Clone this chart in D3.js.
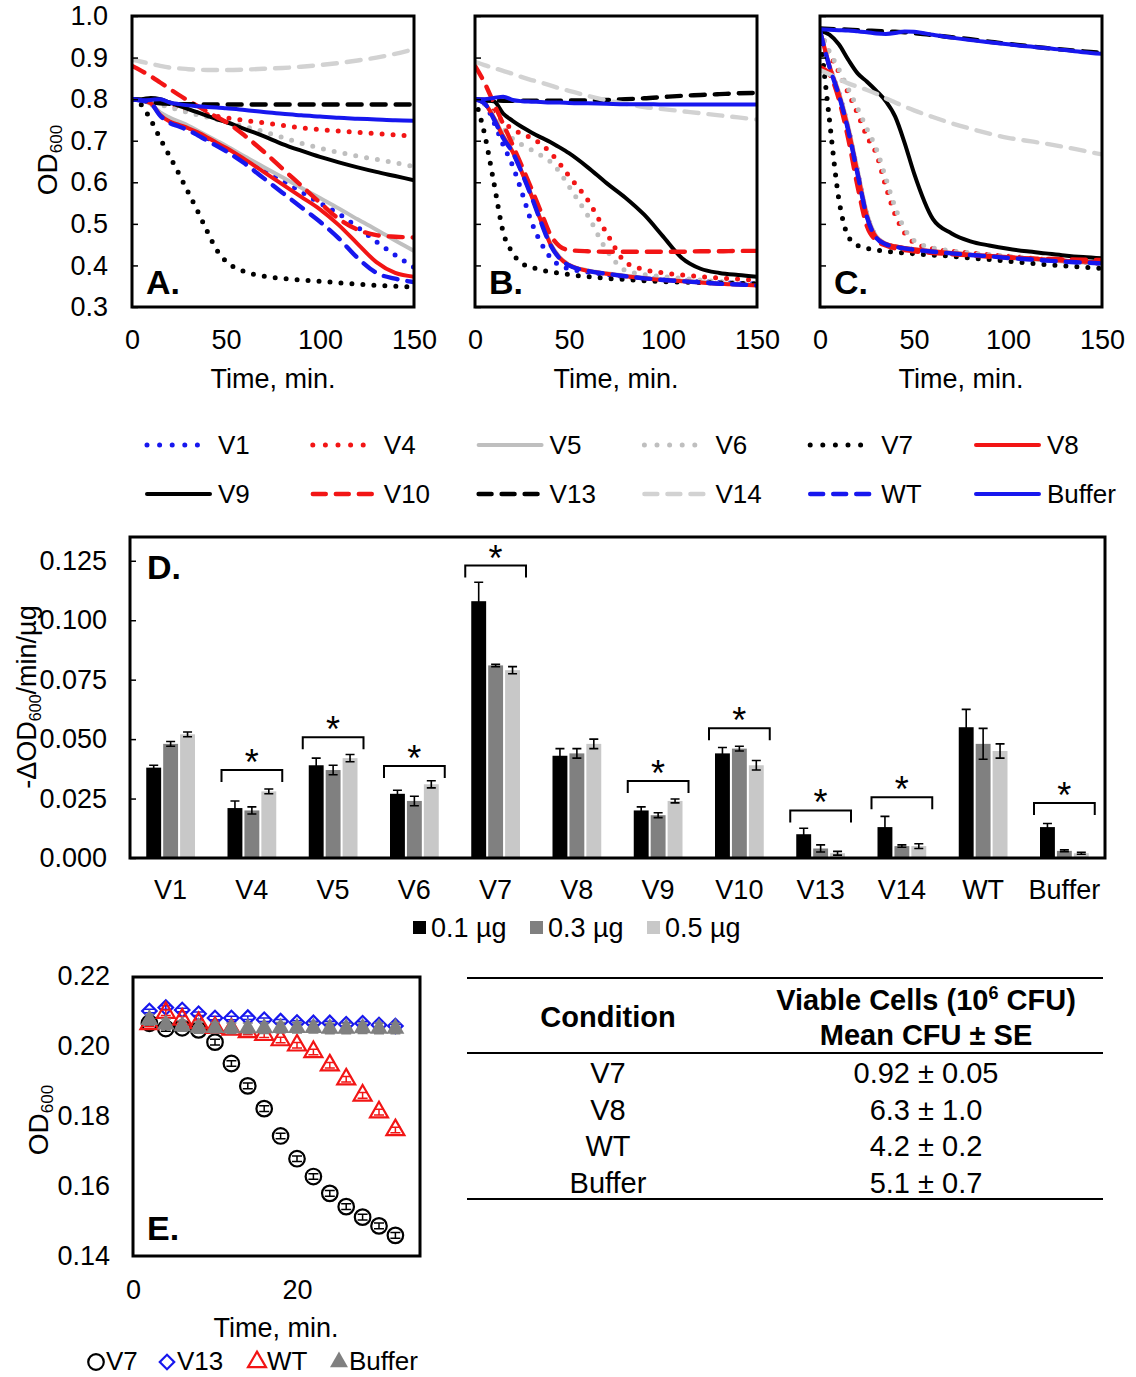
<!DOCTYPE html>
<html>
<head>
<meta charset="utf-8">
<script src="https://cdn.jsdelivr.net/npm/d3@7"></script>
<style>
  body { margin: 0; background: #fff; }
  svg { font-family: "Liberation Sans", Arial, sans-serif; }
</style>
</head>
<body>
<div id="fig"></div>
<script>
// ---- Panels A-C: OD600 over time ----
const times = [0, 5, 10, 15, 20, 25, 30, 35, 40, 45, 50, 60, 70, 80, 90, 100, 110, 120, 130, 140, 150];
const seriesNames = ['V1', 'V4', 'V5', 'V6', 'V7', 'V8', 'V9', 'V10', 'V13', 'V14', 'WT', 'Buffer'];

// one row per series, in seriesNames order
const odA = [
  [0.800, 0.797, 0.790, 0.765, 0.752, 0.742, 0.732, 0.720, 0.707, 0.694, 0.681, 0.655, 0.630, 0.604, 0.577, 0.550, 0.524, 0.492, 0.457, 0.425, 0.395],
  [0.800, 0.798, 0.795, 0.790, 0.785, 0.778, 0.772, 0.767, 0.763, 0.759, 0.755, 0.749, 0.743, 0.737, 0.731, 0.727, 0.723, 0.720, 0.717, 0.714, 0.711],
  [0.800, 0.797, 0.788, 0.768, 0.756, 0.746, 0.736, 0.724, 0.712, 0.700, 0.688, 0.662, 0.637, 0.612, 0.587, 0.562, 0.537, 0.511, 0.486, 0.460, 0.435],
  [0.800, 0.798, 0.793, 0.787, 0.780, 0.774, 0.768, 0.762, 0.757, 0.751, 0.745, 0.734, 0.722, 0.708, 0.694, 0.682, 0.672, 0.663, 0.655, 0.647, 0.638],
  [0.800, 0.786, 0.750, 0.705, 0.663, 0.620, 0.575, 0.530, 0.482, 0.438, 0.410, 0.385, 0.374, 0.369, 0.365, 0.362, 0.358, 0.355, 0.352, 0.350, 0.348],
  [0.800, 0.797, 0.790, 0.762, 0.746, 0.738, 0.730, 0.720, 0.708, 0.695, 0.683, 0.655, 0.625, 0.595, 0.565, 0.535, 0.497, 0.452, 0.408, 0.382, 0.373],
  [0.800, 0.800, 0.803, 0.800, 0.792, 0.784, 0.776, 0.768, 0.760, 0.752, 0.745, 0.728, 0.711, 0.692, 0.676, 0.661, 0.648, 0.636, 0.625, 0.615, 0.605],
  [0.880, 0.868, 0.855, 0.840, 0.825, 0.810, 0.796, 0.783, 0.770, 0.757, 0.745, 0.712, 0.674, 0.633, 0.592, 0.551, 0.512, 0.486, 0.473, 0.469, 0.467],
  [0.800, 0.797, 0.793, 0.790, 0.789, 0.788, 0.788, 0.788, 0.787, 0.787, 0.787, 0.787, 0.787, 0.787, 0.787, 0.787, 0.787, 0.787, 0.787, 0.787, 0.787],
  [0.895, 0.890, 0.885, 0.880, 0.876, 0.874, 0.872, 0.871, 0.870, 0.870, 0.870, 0.871, 0.873, 0.875, 0.878, 0.882, 0.887, 0.893, 0.900, 0.909, 0.920],
  [0.800, 0.797, 0.790, 0.760, 0.743, 0.734, 0.725, 0.713, 0.700, 0.688, 0.675, 0.645, 0.610, 0.575, 0.540, 0.505, 0.465, 0.418, 0.382, 0.368, 0.360],
  [0.800, 0.797, 0.798, 0.800, 0.792, 0.788, 0.785, 0.783, 0.781, 0.780, 0.778, 0.774, 0.769, 0.765, 0.761, 0.758, 0.755, 0.753, 0.751, 0.749, 0.748]
];
const odB = [
  [0.800, 0.790, 0.745, 0.690, 0.640, 0.575, 0.505, 0.455, 0.420, 0.400, 0.392, 0.384, 0.378, 0.373, 0.369, 0.366, 0.363, 0.361, 0.359, 0.357, 0.356],
  [0.800, 0.790, 0.770, 0.745, 0.728, 0.716, 0.707, 0.692, 0.672, 0.645, 0.615, 0.557, 0.478, 0.408, 0.390, 0.382, 0.377, 0.373, 0.370, 0.367, 0.365],
  [0.800, 0.790, 0.757, 0.712, 0.675, 0.625, 0.570, 0.510, 0.455, 0.420, 0.402, 0.388, 0.381, 0.375, 0.370, 0.366, 0.363, 0.360, 0.357, 0.355, 0.353],
  [0.800, 0.788, 0.760, 0.730, 0.705, 0.690, 0.678, 0.665, 0.650, 0.625, 0.590, 0.520, 0.437, 0.388, 0.378, 0.373, 0.369, 0.365, 0.361, 0.358, 0.356],
  [0.800, 0.718, 0.600, 0.480, 0.430, 0.405, 0.396, 0.389, 0.385, 0.381, 0.378, 0.373, 0.369, 0.366, 0.363, 0.361, 0.360, 0.359, 0.358, 0.357, 0.356],
  [0.800, 0.790, 0.755, 0.710, 0.673, 0.623, 0.568, 0.508, 0.452, 0.418, 0.401, 0.387, 0.380, 0.374, 0.369, 0.365, 0.362, 0.359, 0.356, 0.354, 0.352],
  [0.800, 0.797, 0.795, 0.765, 0.748, 0.733, 0.720, 0.708, 0.697, 0.684, 0.670, 0.636, 0.598, 0.563, 0.522, 0.470, 0.418, 0.392, 0.382, 0.377, 0.373],
  [0.880, 0.840, 0.790, 0.740, 0.690, 0.638, 0.585, 0.530, 0.475, 0.446, 0.437, 0.434, 0.433, 0.433, 0.433, 0.433, 0.433, 0.434, 0.434, 0.435, 0.435],
  [0.800, 0.798, 0.797, 0.796, 0.796, 0.796, 0.796, 0.796, 0.796, 0.796, 0.797, 0.797, 0.798, 0.800, 0.802, 0.805, 0.808, 0.810, 0.812, 0.814, 0.815],
  [0.890, 0.882, 0.875, 0.868, 0.861, 0.853, 0.846, 0.840, 0.833, 0.826, 0.820, 0.808, 0.797, 0.789, 0.781, 0.776, 0.771, 0.766, 0.761, 0.756, 0.751],
  [0.800, 0.790, 0.752, 0.706, 0.672, 0.622, 0.566, 0.505, 0.450, 0.417, 0.400, 0.387, 0.380, 0.374, 0.369, 0.365, 0.362, 0.359, 0.356, 0.354, 0.352],
  [0.800, 0.800, 0.803, 0.806, 0.798, 0.795, 0.794, 0.793, 0.792, 0.792, 0.791, 0.790, 0.789, 0.788, 0.788, 0.787, 0.787, 0.787, 0.787, 0.787, 0.787]
];
const odC = [
  [0.965, 0.880, 0.815, 0.730, 0.625, 0.520, 0.468, 0.452, 0.445, 0.441, 0.438, 0.433, 0.429, 0.425, 0.422, 0.418, 0.415, 0.412, 0.409, 0.407, 0.405],
  [0.965, 0.910, 0.865, 0.815, 0.765, 0.710, 0.668, 0.590, 0.522, 0.478, 0.455, 0.440, 0.434, 0.430, 0.426, 0.422, 0.418, 0.414, 0.411, 0.408, 0.405],
  [0.965, 0.882, 0.818, 0.735, 0.630, 0.525, 0.470, 0.453, 0.446, 0.442, 0.439, 0.434, 0.430, 0.426, 0.422, 0.418, 0.415, 0.412, 0.409, 0.407, 0.405],
  [0.965, 0.915, 0.872, 0.825, 0.778, 0.728, 0.680, 0.610, 0.540, 0.488, 0.460, 0.442, 0.435, 0.430, 0.426, 0.422, 0.418, 0.414, 0.411, 0.408, 0.405],
  [0.960, 0.751, 0.560, 0.470, 0.448, 0.441, 0.437, 0.434, 0.432, 0.430, 0.428, 0.425, 0.422, 0.418, 0.414, 0.410, 0.406, 0.402, 0.399, 0.396, 0.393],
  [0.965, 0.880, 0.813, 0.728, 0.622, 0.518, 0.467, 0.452, 0.446, 0.442, 0.439, 0.434, 0.430, 0.426, 0.423, 0.420, 0.417, 0.414, 0.411, 0.409, 0.407],
  [0.965, 0.955, 0.932, 0.895, 0.862, 0.842, 0.820, 0.795, 0.758, 0.695, 0.622, 0.512, 0.477, 0.458, 0.448, 0.440, 0.434, 0.429, 0.424, 0.420, 0.417],
  [0.877, 0.860, 0.800, 0.705, 0.590, 0.494, 0.460, 0.448, 0.441, 0.437, 0.434, 0.430, 0.427, 0.424, 0.421, 0.419, 0.417, 0.416, 0.415, 0.414, 0.413],
  [0.970, 0.969, 0.968, 0.967, 0.966, 0.965, 0.964, 0.963, 0.962, 0.961, 0.959, 0.954, 0.949, 0.944, 0.938, 0.933, 0.928, 0.923, 0.919, 0.915, 0.911],
  [0.870, 0.860, 0.848, 0.838, 0.830, 0.822, 0.813, 0.802, 0.792, 0.782, 0.773, 0.757, 0.742, 0.729, 0.717, 0.707, 0.700, 0.693, 0.685, 0.676, 0.667],
  [0.965, 0.878, 0.810, 0.725, 0.620, 0.516, 0.466, 0.451, 0.445, 0.441, 0.438, 0.433, 0.429, 0.425, 0.422, 0.418, 0.415, 0.412, 0.409, 0.407, 0.405],
  [0.968, 0.967, 0.966, 0.965, 0.963, 0.961, 0.958, 0.957, 0.959, 0.963, 0.962, 0.955, 0.948, 0.942, 0.937, 0.932, 0.927, 0.923, 0.918, 0.913, 0.909]
];
const odTicks = [0.3, 0.4, 0.5, 0.6, 0.7, 0.8, 0.9, 1.0];
const timeTicks = [0, 50, 100, 150];

// ---- Panel D: lysis rate per dose ----
const groups = ['V1', 'V4', 'V5', 'V6', 'V7', 'V8', 'V9', 'V10', 'V13', 'V14', 'WT', 'Buffer'];
const doses = ['0.1 µg', '0.3 µg', '0.5 µg'];
const rate01 = [0.038, 0.021, 0.039, 0.027, 0.108, 0.043, 0.020, 0.044, 0.010, 0.013, 0.055, 0.013];
const rate03 = [0.048, 0.020, 0.037, 0.024, 0.081, 0.044, 0.018, 0.046, 0.004, 0.005, 0.048, 0.003];
const rate05 = [0.052, 0.028, 0.042, 0.031, 0.079, 0.048, 0.024, 0.039, 0.002, 0.005, 0.045, 0.002];
const err01 = [0.001, 0.003, 0.003, 0.0015, 0.008, 0.003, 0.0015, 0.0025, 0.0025, 0.0045, 0.0075, 0.0015];
const err03 = [0.001, 0.0015, 0.002, 0.002, 0.0005, 0.002, 0.001, 0.001, 0.0015, 0.0005, 0.0065, 0.0004];
const err05 = [0.001, 0.001, 0.0015, 0.0015, 0.0015, 0.002, 0.0008, 0.002, 0.0008, 0.001, 0.003, 0.0004];
const sigGroups = ['V4', 'V5', 'V6', 'V7', 'V9', 'V10', 'V13', 'V14', 'Buffer'];
const sigLevel = [0.037, 0.0508, 0.0387, 0.1230, 0.0324, 0.0546, 0.0200, 0.0256, 0.0231];
const rateTicks = [0, 0.025, 0.05, 0.075, 0.1, 0.125];

// ---- Panel E: short time course ----
const eTimes = [2, 4, 6, 8, 10, 12, 14, 16, 18, 20, 22, 24, 26, 28, 30, 32];
const eV7 = [0.2065, 0.2050, 0.2052, 0.2046, 0.2011, 0.1950, 0.1886, 0.1821, 0.1743, 0.1678, 0.1627, 0.1579, 0.1541, 0.1511, 0.1486, 0.1459];
const eV13 = [0.2100, 0.2110, 0.2103, 0.2092, 0.2080, 0.2080, 0.2081, 0.2075, 0.2071, 0.2067, 0.2066, 0.2066, 0.2062, 0.2065, 0.2060, 0.2057];
const eWT = [0.2063, 0.2095, 0.2076, 0.2066, 0.2052, 0.2047, 0.2040, 0.2032, 0.2017, 0.2002, 0.1983, 0.1945, 0.1905, 0.1859, 0.1811, 0.1760];
const eBuffer = [0.2075, 0.2062, 0.2057, 0.2053, 0.2052, 0.2051, 0.2051, 0.2051, 0.2052, 0.2052, 0.2052, 0.2050, 0.2050, 0.2051, 0.2050, 0.2050];
const eErrV7 = 0.0008, eErrV13 = 0.0005, eErrWT = 0.0008, eErrBuffer = 0.0015;
const eTicksY = [0.14, 0.16, 0.18, 0.20, 0.22];
const eTicksX = [0, 20];

// ---- Table ----
const tableConditions = ['V7', 'V8', 'WT', 'Buffer'];
const tableMean = ['0.92', '6.3', '4.2', '5.1'];
const tableSE = ['0.05', '1.0', '0.2', '0.7'];

// styles
const BLUE = '#1717ee', RED = '#f21515', GRAY = '#bfbfbf', LGRAY = '#d2d2d2';
const lineStyle = {
  V1: { color: BLUE, dash: 'dot' },   V4: { color: RED, dash: 'dot' },
  V5: { color: GRAY, dash: 'solid' }, V6: { color: GRAY, dash: 'dot' },
  V7: { color: '#000', dash: 'dot' }, V8: { color: RED, dash: 'solid' },
  V9: { color: '#000', dash: 'solid' }, V10: { color: RED, dash: 'dash' },
  V13: { color: '#000', dash: 'dash' }, V14: { color: LGRAY, dash: 'dash' },
  WT: { color: BLUE, dash: 'dash' },  Buffer: { color: BLUE, dash: 'solid' }
};
const dashArray = { dot: '0,11', dash: '14,10', solid: null };
const legendDash = { dot: '0,12.6', dash: '13,10', solid: null };
const FS = 27;

const svg = d3.select('#fig').append('svg')
  .attr('width', 1136).attr('height', 1377);

function styleLine(sel, name) {
  const s = lineStyle[name];
  sel.attr('fill', 'none')
    .attr('stroke', s.color)
    .attr('stroke-width', s.dash === 'solid' ? 4 : (s.dash === 'dot' ? 5 : 4.4))
    .attr('stroke-linecap', 'round')
    .attr('stroke-linejoin', 'round')
    .attr('stroke-dasharray', dashArray[s.dash]);
}

function cleanAxis(g) {
  g.select('.domain').remove();
  g.selectAll('text').attr('font-size', FS).attr('fill', '#000')
    .attr('font-family', '"Liberation Sans", Arial, sans-serif');
}

function linePanel(data, x0, x1, letter, withY) {
  const x = d3.scaleLinear().domain([0, 150]).range([x0, x1]);
  const y = d3.scaleLinear().domain([0.3, 1.0]).range([307, 16]);
  const clipId = 'clip' + letter;
  svg.append('clipPath').attr('id', clipId)
    .append('rect').attr('x', x0).attr('y', 16).attr('width', x1 - x0).attr('height', 291);

  const g = svg.append('g');
  const lg = g.append('g').attr('clip-path', `url(#${clipId})`);
  const line = d3.line()
    .x((d, i) => x(times[i]))
    .y(d => y(d))
    .curve(d3.curveMonotoneX);

  seriesNames.forEach(function(name, k) {
    lg.append('path').attr('d', line(data[k])).call(styleLine, name);
  });

  // inward tick marks
  g.append('g').attr('transform', `translate(${x0},0)`)
    .call(d3.axisRight(y).tickValues(odTicks).tickSize(6).tickFormat(''))
    .call(cleanAxis)
    .selectAll('line').attr('stroke', '#000').attr('stroke-width', 1.5);

  if (withY) {
    g.append('g').attr('transform', `translate(${x0},0)`)
      .call(d3.axisLeft(y).tickValues(odTicks).tickFormat(d3.format('.1f')).tickSize(0).tickPadding(24))
      .call(cleanAxis);
  }

  g.append('g').attr('transform', 'translate(0,307)')
    .call(d3.axisBottom(x).tickValues(timeTicks).tickSize(0).tickPadding(23))
    .call(cleanAxis);

  g.append('text')
    .attr('x', (x0 + x1) / 2).attr('y', 388)
    .attr('text-anchor', 'middle').attr('font-size', FS)
    .text('Time, min.');

  g.append('rect')
    .attr('x', x0).attr('y', 16).attr('width', x1 - x0).attr('height', 291)
    .attr('fill', 'none').attr('stroke', '#000').attr('stroke-width', 3);

  g.append('text')
    .attr('x', x0 + 14).attr('y', 294)
    .attr('font-size', 34).attr('font-weight', 'bold')
    .text(letter + '.');
}

linePanel(odA, 132, 414, 'A', true);
linePanel(odB, 475, 757, 'B', false);
linePanel(odC, 820, 1102, 'C', false);

// OD600 label for A
const odLabel = svg.append('text')
  .attr('transform', 'translate(57,160) rotate(-90)')
  .attr('text-anchor', 'middle').attr('font-size', 28);
odLabel.append('tspan').text('OD');
odLabel.append('tspan').attr('font-size', 17).attr('dy', 5).text('600');

// Legend for A-C
const legCols = 6;
seriesNames.forEach(function(name, i) {
  const col = i % legCols, row = Math.floor(i / legCols);
  const lx = 147 + col * 165.8, ly = 445 + row * 49;
  svg.append('path')
    .attr('d', d3.line()([[lx, ly], [lx + 63, ly]]))
    .call(styleLine, name)
    .attr('stroke-dasharray', legendDash[lineStyle[name].dash]);
  svg.append('text')
    .attr('x', lx + 71).attr('y', ly + 9)
    .attr('font-size', 26).text(name);
});

// ---- Panel D ----
(function() {
  const x0 = 130, x1 = 1105, yTop = 537, yBot = 858;
  const x = d3.scaleBand().domain(groups).range([x0, x1]).paddingInner(0.4).paddingOuter(0.2);
  const xs = d3.scaleBand().domain(doses).range([0, x.bandwidth()]).paddingInner(0.12);
  const y = d3.scaleLinear().domain([0, 0.135]).range([yBot, yTop]);
  const barColors = ['#000000', '#808080', '#c8c8c8'];
  const rates = [rate01, rate03, rate05];
  const errs = [err01, err03, err05];
  const g = svg.append('g');

  rates.forEach(function(vals, d) {
    g.selectAll(null).data(groups).enter().append('rect')
      .attr('x', k => x(k) + xs(doses[d]))
      .attr('y', (k, i) => y(vals[i]))
      .attr('width', xs.bandwidth())
      .attr('height', (k, i) => yBot - y(vals[i]))
      .attr('fill', barColors[d]);
  });

  rates.forEach(function(vals, d) {
    groups.forEach(function(k, i) {
      const cx = x(k) + xs(doses[d]) + xs.bandwidth() / 2;
      const top = y(vals[i] + errs[d][i]), bot = y(Math.max(0, vals[i] - errs[d][i]));
      g.append('path')
        .attr('d', `M${cx},${top}V${bot}M${cx - 4.5},${top}H${cx + 4.5}M${cx - 4.5},${bot}H${cx + 4.5}`)
        .attr('stroke', '#000').attr('stroke-width', 1.6).attr('fill', 'none');
    });
  });

  // significance brackets
  sigGroups.forEach(function(k, i) {
    const bl = x(k) - 6, br = x(k) + x.bandwidth() + 6, by = y(sigLevel[i]);
    g.append('path')
      .attr('d', `M${bl},${by + 12}V${by}H${br}V${by + 12}`)
      .attr('fill', 'none').attr('stroke', '#000').attr('stroke-width', 2);
    g.append('text')
      .attr('x', x(k) + x.bandwidth() / 2).attr('y', by + 5)
      .attr('text-anchor', 'middle').attr('font-size', 36)
      .text('*');
  });

  // inward ticks
  g.append('g').attr('transform', `translate(${x0},0)`)
    .call(d3.axisRight(y).tickValues(rateTicks).tickSize(6).tickFormat(''))
    .call(cleanAxis)
    .selectAll('line').attr('stroke', '#000').attr('stroke-width', 1.5);
  g.append('g').attr('transform', `translate(${x0},0)`)
    .call(d3.axisLeft(y).tickValues(rateTicks).tickFormat(d3.format('.3f')).tickSize(0).tickPadding(23))
    .call(cleanAxis);
  g.append('g').attr('transform', `translate(0,${yBot})`)
    .call(d3.axisBottom(x).tickSize(0).tickPadding(22))
    .call(cleanAxis);

  g.append('rect')
    .attr('x', x0).attr('y', yTop).attr('width', x1 - x0).attr('height', yBot - yTop)
    .attr('fill', 'none').attr('stroke', '#000').attr('stroke-width', 3);

  g.append('text').attr('x', 147).attr('y', 579)
    .attr('font-size', 34).attr('font-weight', 'bold').text('D.');

  const yl = g.append('text')
    .attr('transform', 'translate(36,697) rotate(-90)')
    .attr('text-anchor', 'middle').attr('font-size', 27);
  yl.append('tspan').text('-ΔOD');
  yl.append('tspan').attr('font-size', 16).attr('dy', 5).text('600');
  yl.append('tspan').attr('dy', -5).text('/min/µg');

  // legend
  doses.forEach(function(dname, d) {
    const lx = 413 + d * 117;
    g.append('rect').attr('x', lx).attr('y', 921).attr('width', 13).attr('height', 13).attr('fill', barColors[d]);
    g.append('text').attr('x', lx + 18).attr('y', 937).attr('font-size', FS).text(dname);
  });
})();

// ---- Panel E ----
(function() {
  const x0 = 133, x1 = 420, yTop = 977, yBot = 1256;
  const x = d3.scaleLinear().domain([0, 35]).range([x0, x1]);
  const y = d3.scaleLinear().domain([0.14, 0.22]).range([yBot, 976]);
  const g = svg.append('g');

  const sym = {
    circle: d3.symbol().type(d3.symbolCircle).size(190),
    diamond: d3.symbol().type(d3.symbolSquare).size(105),
    triangle: d3.symbol().type(d3.symbolTriangle).size(140)
  };
  const eSeries = [
    { name: 'V7', vals: eV7, err: eErrV7, shape: 'circle', stroke: '#000', fill: 'none', errColor: '#000' },
    { name: 'V13', vals: eV13, err: eErrV13, shape: 'diamond', stroke: BLUE, fill: 'none', errColor: BLUE },
    { name: 'WT', vals: eWT, err: eErrWT, shape: 'triangle', stroke: RED, fill: 'none', errColor: RED },
    { name: 'Buffer', vals: eBuffer, err: eErrBuffer, shape: 'triangle', stroke: 'none', fill: '#808080', errColor: '#808080' }
  ];

  function marker(sel, s) {
    sel.attr('d', sym[s.shape])
      .attr('fill', s.fill).attr('stroke', s.stroke).attr('stroke-width', 2.2);
  }

  eSeries.forEach(function(s) {
    s.vals.forEach(function(v, i) {
      const cx = x(eTimes[i]);
      const rot = s.shape === 'diamond' ? ' rotate(45)' : '';
      g.append('path').attr('transform', `translate(${cx},${y(v)})${rot}`).call(marker, s);
      const t = y(v + s.err), b = y(v - s.err);
      g.append('path')
        .attr('d', `M${cx},${t}V${b}M${cx - 5},${t}H${cx + 5}M${cx - 5},${b}H${cx + 5}`)
        .attr('stroke', s.errColor).attr('stroke-width', 1.5).attr('fill', 'none');
    });
  });

  g.append('g').attr('transform', `translate(${x0},0)`)
    .call(d3.axisLeft(y).tickValues(eTicksY).tickFormat(d3.format('.2f')).tickSize(0).tickPadding(23))
    .call(cleanAxis);
  g.append('g').attr('transform', `translate(0,${yBot})`)
    .call(d3.axisBottom(x).tickValues(eTicksX).tickFormat(d3.format('d')).tickSize(0).tickPadding(24))
    .call(cleanAxis);

  g.append('rect')
    .attr('x', x0).attr('y', yTop).attr('width', x1 - x0).attr('height', yBot - yTop)
    .attr('fill', 'none').attr('stroke', '#000').attr('stroke-width', 3);

  g.append('text').attr('x', 147).attr('y', 1240)
    .attr('font-size', 34).attr('font-weight', 'bold').text('E.');

  g.append('text').attr('x', 276).attr('y', 1337)
    .attr('text-anchor', 'middle').attr('font-size', FS).text('Time, min.');

  const yl = g.append('text')
    .attr('transform', 'translate(48,1120) rotate(-90)')
    .attr('text-anchor', 'middle').attr('font-size', 28);
  yl.append('tspan').text('OD');
  yl.append('tspan').attr('font-size', 17).attr('dy', 5).text('600');

  // legend
  const legX = [96, 167, 257, 339];
  eSeries.forEach(function(s, i) {
    const rot = s.shape === 'diamond' ? ' rotate(45)' : '';
    g.append('path').attr('transform', `translate(${legX[i]},1362)${rot}`).call(marker, s);
    g.append('text').attr('x', legX[i] + 10).attr('y', 1370).attr('font-size', 26).text(s.name);
  });
})();

// ---- Table ----
(function() {
  const tx0 = 467, tx1 = 1103, c1 = 608, c2 = 926;
  const g = svg.append('g');
  [978, 1053, 1199].forEach(function(ly) {
    g.append('line').attr('x1', tx0).attr('x2', tx1).attr('y1', ly).attr('y2', ly)
      .attr('stroke', '#000').attr('stroke-width', 2);
  });
  g.append('text').attr('x', c1).attr('y', 1027).attr('text-anchor', 'middle')
    .attr('font-size', 29).attr('font-weight', 'bold').text('Condition');
  const h1 = g.append('text').attr('x', c2).attr('y', 1010).attr('text-anchor', 'middle')
    .attr('font-size', 29).attr('font-weight', 'bold');
  h1.append('tspan').text('Viable Cells (10');
  h1.append('tspan').attr('font-size', 18).attr('dy', -11).text('6');
  h1.append('tspan').attr('dy', 11).text(' CFU)');
  g.append('text').attr('x', c2).attr('y', 1045).attr('text-anchor', 'middle')
    .attr('font-size', 29).attr('font-weight', 'bold').text('Mean CFU ± SE');

  tableConditions.forEach(function(c, i) {
    const ry = 1083 + i * 36.5;
    g.append('text').attr('x', c1).attr('y', ry).attr('text-anchor', 'middle')
      .attr('font-size', 29).text(c);
    g.append('text').attr('x', c2).attr('y', ry).attr('text-anchor', 'middle')
      .attr('font-size', 29).text(tableMean[i] + ' ± ' + tableSE[i]);
  });
})();
</script>
</body>
</html>
